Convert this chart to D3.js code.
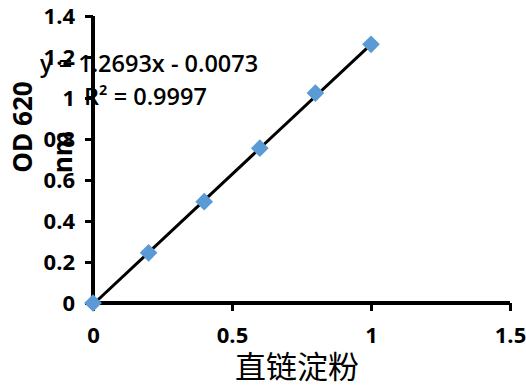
<!DOCTYPE html>
<html>
<head>
<meta charset="utf-8">
<script src="https://cdn.jsdelivr.net/npm/d3@7"></script>
<style>
  body { margin: 0; background: #fff; }
  text { font-family: "Open Sans", "Noto Sans", sans-serif; }
</style>
</head>
<body>
<div id="chart"></div>
<script>
// data
var xValues = [0, 0.2, 0.4, 0.6, 0.8, 1.0];
var odValues = [0, 0.245, 0.494, 0.755, 1.024, 1.262];
var xTicks = [0, 0.5, 1, 1.5];
var yTicks = [0, 0.2, 0.4, 0.6, 0.8, 1, 1.2, 1.4];
var slope = 1.2693, intercept = -0.0073;
var eqLines = ["y = 1.2693x - 0.0073", "R² = 0.9997"];

var width = 526, height = 387;

var svg = d3.select("#chart").append("svg")
    .attr("width", width)
    .attr("height", height);

var x = d3.scaleLinear().domain([0, 1.5]).range([93, 510]);
var y = d3.scaleLinear().domain([0, 1.4]).range([303, 16]);

// axes
var xAxis = svg.append("g")
    .attr("transform", "translate(0," + y(0) + ")")
    .call(d3.axisBottom(x).tickValues(xTicks).tickSize(8).tickPadding(16)
        .tickFormat(function(d){ return d; }));
var yAxis = svg.append("g")
    .attr("transform", "translate(" + x(0) + ",0)")
    .call(d3.axisLeft(y).tickValues(yTicks).tickSize(8).tickPadding(10)
        .tickFormat(function(d){ return d; }));

[xAxis, yAxis].forEach(function(a){
    a.select(".domain").attr("stroke", "#000").attr("stroke-width", 4);
    a.selectAll(".tick line").attr("stroke", "#000").attr("stroke-width", 3);
    a.selectAll(".tick text")
        .attr("fill", "#000")
        .style("font-size", "22px")
        .style("font-weight", "700");
});
xAxis.select(".domain").attr("d", "M" + x(0) + ",0H" + x(1.5));
yAxis.select(".domain").attr("d", "M0," + y(0) + "V" + y(1.4));

// equation label
var eq = svg.append("g");
eq.append("text")
    .attr("x", 40).attr("y", 72)
    .style("font-size", "23.5px").style("font-weight", "600")
    .text(eqLines[0]);
eq.append("text")
    .attr("x", 84).attr("y", 105)
    .style("font-size", "23.5px").style("font-weight", "600")
    .text(eqLines[1]);

// trendline
svg.append("line")
    .attr("x1", x(0)).attr("y1", y(slope * 0 + intercept))
    .attr("x2", x(1)).attr("y2", y(slope * 1 + intercept))
    .attr("stroke", "#000")
    .attr("stroke-width", 3);

// markers
svg.selectAll(".pt")
    .data(xValues)
    .enter().append("path")
    .attr("class", "pt")
    .attr("d", d3.symbol().type(d3.symbolDiamond2).size(200)())
    .attr("transform", function(d, i){ return "translate(" + x(d) + "," + y(odValues[i]) + ")"; })
    .attr("fill", "#5B9BD5");

// axis titles
svg.append("text")
    .attr("transform", "translate(32,127) rotate(-90)")
    .attr("text-anchor", "middle")
    .style("font-size", "26px").style("font-weight", "700")
    .text("OD 620");
svg.append("text")
    .attr("transform", "translate(72,152) rotate(-90)")
    .attr("text-anchor", "middle")
    .style("font-size", "26px").style("font-weight", "700")
    .text("nm");

svg.append("text")
    .attr("x", 297).attr("y", 378)
    .attr("text-anchor", "middle")
    .style("font-family", "'Noto Sans CJK SC'")
    .style("font-size", "31px")
    .text("直链淀粉");
</script>
</body>
</html>
